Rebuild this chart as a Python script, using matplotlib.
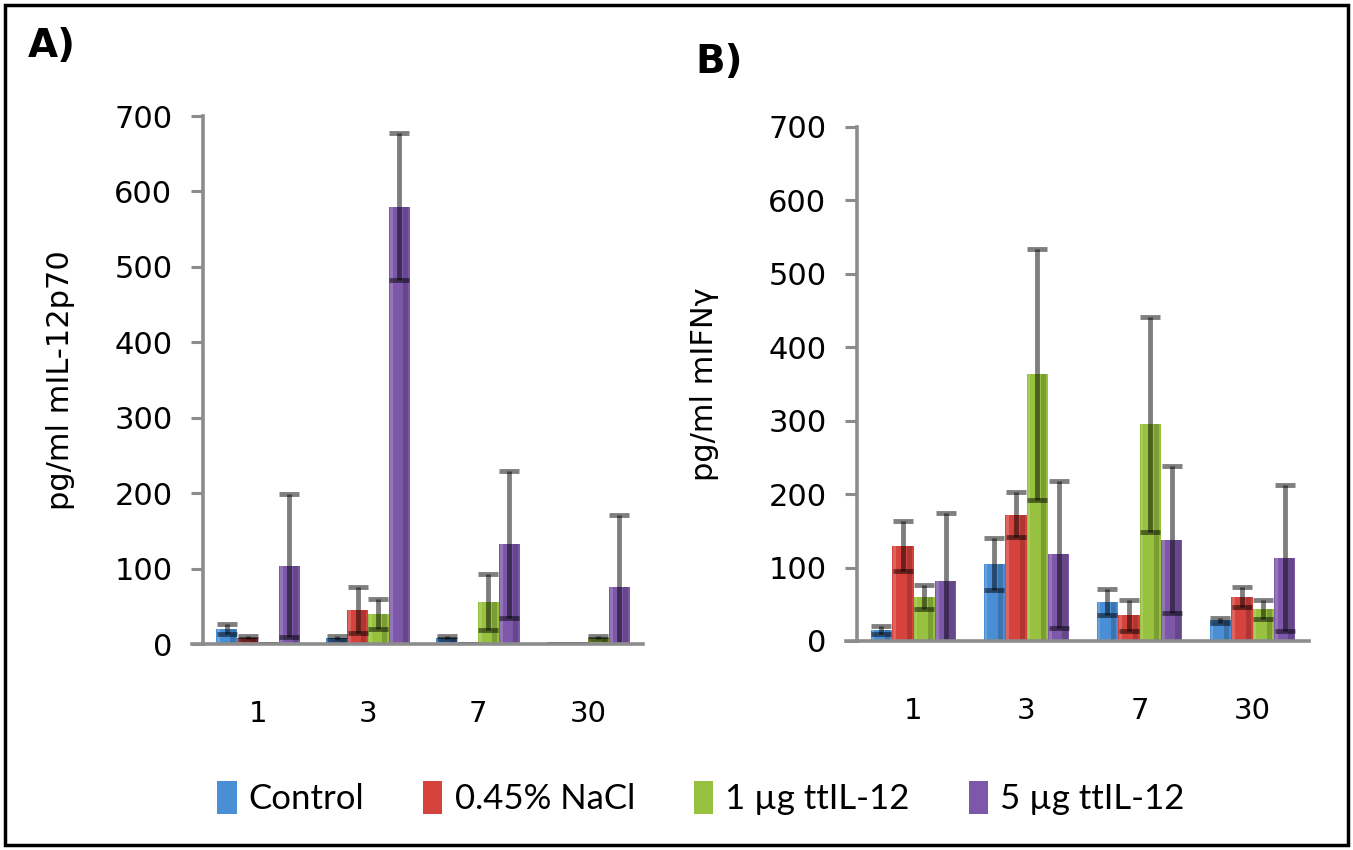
import matplotlib
matplotlib.use("Agg")
import matplotlib.pyplot as plt
from matplotlib.patches import Rectangle, Patch
import numpy as np

days = ["1", "3", "7", "30"]
series_names = ["Control", "0.45% NaCl", "1 µg ttIL-12", "5 µg ttIL-12"]
colors = ["#4A8ED6", "#D6423C", "#97C13F", "#7D57A9"]

# Panel A: IL-12p70
a_control = [20, 8, 8, 0]
a_nacl = [8, 45, 0, 0]
a_low = [0, 40, 56, 8]
a_high = [104, 580, 132, 75]
a_control_err = [7, 3, 2, 0]
a_nacl_err = [2, 30, 0, 0]
a_low_err = [0, 20, 37, 2]
a_high_err = [95, 97, 97, 96]

# Panel B: IFN-gamma
b_control = [15, 105, 53, 28]
b_nacl = [130, 172, 35, 60]
b_low = [60, 363, 295, 43]
b_high = [82, 118, 138, 113]
b_control_err = [5, 35, 18, 4]
b_nacl_err = [34, 31, 21, 14]
b_low_err = [16, 171, 146, 13]
b_high_err = [93, 100, 100, 100]

yticks = [0, 100, 200, 300, 400, 500, 600, 700]

W, H = 1353, 850
fig = plt.figure(figsize=(W / 100, H / 100), dpi=100)

def draw_panel(rect, vals, errs, ylabel, title, title_xy, ylabel_x):
    ax = fig.add_axes(rect)
    x = np.arange(len(days))
    bw = 0.19
    offsets = (np.arange(4) - 1.5) * bw
    for i, (v, e) in enumerate(zip(vals, errs)):
        xs = x + offsets[i]
        ax.bar(xs, v, width=bw, color=colors[i], edgecolor="none", zorder=2)
        # shading strips for 3D look
        ax.bar(xs + bw * 0.3, v, width=bw * 0.25, color="black", alpha=0.18,
               edgecolor="none", zorder=2.5)
        ax.bar(xs - bw * 0.38, v, width=bw * 0.12, color="white", alpha=0.18,
               edgecolor="none", zorder=2.5)
        eb = ax.errorbar(xs, v, yerr=e, fmt="none", ecolor=(0, 0, 0, 0.5),
                         elinewidth=3.5, capsize=7, capthick=3.5, zorder=3)
        for cl in eb[1]:
            cl.set_color("black")
    ax.set_xlim(-0.5, 3.5)
    ax.set_ylim(0, 700)
    ax.set_yticks(yticks)
    ax.set_yticklabels([str(t) for t in yticks], fontsize=22, family="DejaVu Sans")
    ax.set_xticks(x)
    ax.set_xticklabels(days, fontsize=21, family="DejaVu Sans")
    ax.tick_params(axis="x", length=0, pad=40)
    ax.tick_params(axis="y", direction="out", length=9, width=2.2, color="#8C8C8C", pad=13)
    for s in ["top", "right"]:
        ax.spines[s].set_visible(False)
    for s in ["left", "bottom"]:
        ax.spines[s].set_color("#8C8C8C")
        ax.spines[s].set_linewidth(2.6)
    ax.spines["bottom"].set_zorder(4)
    ax.plot([-0.5 - 0.1, -0.5], [0, 0], color="#8C8C8C", lw=2.6, clip_on=False,
            transform=ax.transData, zorder=4)
    ax.set_ylabel(ylabel, fontsize=22, family="DejaVu Sans")
    ax.yaxis.set_label_coords(ylabel_x, 0.5)
    fig.text(title_xy[0], title_xy[1], title, fontsize=28, fontweight="bold",
             family="DejaVu Sans", ha="left", va="center")
    return ax

axA = draw_panel([203 / W, 1 - 644 / H, 440 / W, 528 / H],
                 [a_control, a_nacl, a_low, a_high],
                 [a_control_err, a_nacl_err, a_low_err, a_high_err],
                 "pg/ml mIL-12p70", "A)", (28 / W, 1 - 46 / H), -0.29)
axB = draw_panel([857 / W, 1 - 641 / H, 452 / W, 514 / H],
                 [b_control, b_nacl, b_low, b_high],
                 [b_control_err, b_nacl_err, b_low_err, b_high_err],
                 "pg/ml mIFNγ", "B)", (695 / W, 1 - 62 / H), -0.305)

handles = [Patch(facecolor=c, edgecolor="none") for c in colors]
leg = fig.legend(handles, series_names, loc="center", bbox_to_anchor=(0.518, 1 - 798 / H),
                 ncol=4, frameon=False, handlelength=0.55, handleheight=1.1,
                 handletextpad=0.35, columnspacing=1.7,
                 prop={"family": ["Lato", "DejaVu Sans"], "size": 25})

fig.patches.append(Rectangle((5 / W, 5 / H), 1 - 10 / W, 1 - 10 / H, transform=fig.transFigure,
                             fill=False, edgecolor="black", lw=2.5))

fig.savefig("out.png", dpi=100)
